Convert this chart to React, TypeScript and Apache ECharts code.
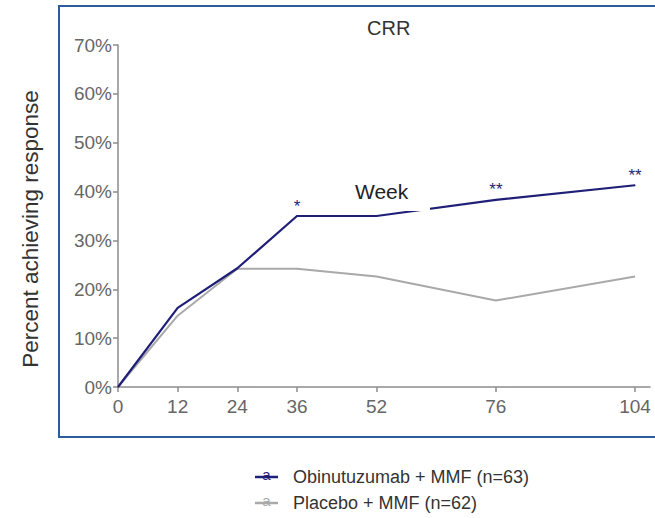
import React, { useEffect, useRef } from "react";
import * as echarts from "echarts";

const weeks = [0, 12, 24, 36, 52, 76, 104];
const obinutuzumab = [0, 16.2, 24.3, 35.0, 35.0, 38.3, 41.3];
const placebo = [0, 14.6, 24.2, 24.2, 22.6, 17.7, 22.6];
const significance = ["", "", "", "*", "", "**", "**"];
const seriesNames = ["Obinutuzumab + MMF (n=63)", "Placebo + MMF (n=62)"];
const seriesColors = ["#1f1f78", "#a9a9a9"];

export default function App() {
  const ref = useRef<HTMLDivElement>(null);
  useEffect(() => {
    document.body.style.margin = "0";
    const chart = echarts.init(ref.current!, null, { renderer: "svg" });
    const font = "Liberation Sans, Arial, Helvetica, sans-serif";
    const obData = weeks.map((w, i) => {
      const item: any = { value: [w, obinutuzumab[i]] };
      if (significance[i]) {
        item.label = { show: true, formatter: significance[i] };
      }
      return item;
    });
    const plData = weeks.map((w, i) => [w, placebo[i]]);
    chart.setOption({
      animation: false,
      textStyle: { fontFamily: font },
      title: {
        text: "CRR",
        left: 362,
        top: 13,
        textStyle: { fontSize: 20, fontWeight: "normal", color: "#333", fontFamily: font },
      },
      grid: { left: 118, top: 45, right: 5, bottom: 131, containLabel: false },
      xAxis: {
        type: "value",
        min: 0,
        max: 107,
        axisLine: { show: true, lineStyle: { color: "#8c8c8c", width: 1.5 } },
        axisTick: { show: true, length: 5, customValues: weeks, lineStyle: { color: "#8c8c8c", width: 1.5 } },
        axisLabel: { customValues: weeks, fontSize: 19, color: "#666", margin: 10, fontFamily: font },
        splitLine: { show: false },
      },
      yAxis: {
        type: "value",
        min: 0,
        max: 70,
        interval: 10,
        axisLine: { show: true, lineStyle: { color: "#8c8c8c", width: 1.5 } },
        axisTick: { show: true, length: 5, lineStyle: { color: "#8c8c8c", width: 1.5 } },
        axisLabel: { formatter: "{value}%", fontSize: 19, color: "#666", margin: 6, fontFamily: font },
        splitLine: { show: false },
      },
      legend: {
        orient: "vertical",
        left: 255,
        top: 467,
        padding: 0,
        itemWidth: 23,
        itemHeight: 2.5,
        itemGap: 6,
        icon: "rect",
        data: seriesNames,
        textStyle: { fontSize: 18, lineHeight: 20, color: "#333", padding: [0, 0, 0, 10], fontFamily: font },
      },
      series: [
        {
          name: seriesNames[0],
          type: "line",
          data: obData,
          symbol: "circle",
          symbolSize: 1,
          color: seriesColors[0],
          lineStyle: { color: seriesColors[0], width: 2.2 },
          z: 3,
          label: {
            show: false,
            position: "top",
            distance: 1,
            fontSize: 17,
            color: seriesColors[0],
            fontFamily: font,
          },
        },
        {
          name: seriesNames[1],
          type: "line",
          data: plData,
          symbol: "none",
          color: seriesColors[1],
          lineStyle: { color: seriesColors[1], width: 2 },
          z: 2,
        },
      ],
      graphic: [
        {
          type: "rect",
          z: 100,
          shape: { x: 59, y: 6, width: 700, height: 431 },
          style: { fill: "none", stroke: "#2c5c9c", lineWidth: 2 },
        },
        {
          type: "rect",
          z: 100,
          shape: { x: 345, y: 176, width: 85, height: 35 },
          style: { fill: "#ffffff" },
        },
        {
          type: "text",
          z: 101,
          x: 355,
          y: 191,
          style: {
            text: "Week",
            fontSize: 21,
            fill: "#222",
            fontFamily: font,
            verticalAlign: "middle",
            align: "left",
          },
        },
        {
          type: "text",
          z: 101,
          x: 30,
          y: 229,
          rotation: Math.PI / 2,
          style: {
            text: "Percent achieving response",
            fontSize: 22.5,
            fill: "#333",
            fontFamily: font,
            align: "center",
            verticalAlign: "middle",
          },
        },
        {
          type: "text",
          z: 101,
          x: 266.5,
          y: 474,
          style: {
            text: "a",
            fontSize: 15,
            fill: seriesColors[0],
            fontFamily: font,
            align: "center",
            verticalAlign: "middle",
          },
        },
        {
          type: "text",
          z: 101,
          x: 266.5,
          y: 500,
          style: {
            text: "a",
            fontSize: 15,
            fill: seriesColors[1],
            fontFamily: font,
            align: "center",
            verticalAlign: "middle",
          },
        },
      ],
    });
    return () => chart.dispose();
  }, []);
  return <div ref={ref} style={{ width: 655, height: 518 }} />;
}
